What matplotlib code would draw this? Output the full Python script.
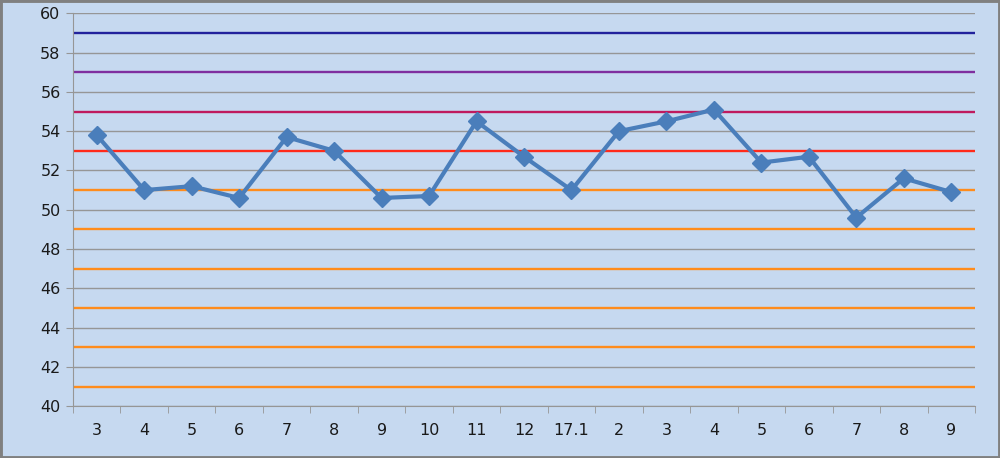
import matplotlib.pyplot as plt
import numpy as np

# categories and values
labels = ["3", "4", "5", "6", "7", "8", "9", "10", "11", "12", "17.1",
          "2", "3", "4", "5", "6", "7", "8", "9"]
values = [53.8, 51.0, 51.2, 50.6, 53.7, 53.0, 50.6, 50.7, 54.5, 52.7, 51.0,
          54.0, 54.5, 55.1, 52.4, 52.7, 49.6, 51.6, 50.9]

# reference levels and their colours
ref_levels = [59, 57, 55, 53, 51, 49, 47, 45, 43, 41]
ref_colors = ["#22229C", "#7F2F9F", "#BF1A5E", "#FF2A1A",
              "#FF8C1C", "#FF8C1C", "#FF8C1C", "#FF8C1C", "#FF8C1C", "#FF8C1C"]

bg = "#C6D9F0"
grid = "#969696"

fig = plt.figure(figsize=(10, 4.58), dpi=100, facecolor=bg)
fig.patches.append(plt.Rectangle((0, 0), 1, 1, transform=fig.transFigure,
                                 fill=False, edgecolor="#808080", linewidth=3.5))
ax = fig.add_axes([0.073, 0.113, 0.902, 0.858])
ax.set_facecolor(bg)

n = len(labels)
x = np.arange(n)
ax.set_xlim(-0.5, n - 0.5)
ax.set_ylim(40, 60)

for yv in range(40, 61, 2):
    ax.axhline(yv, color=grid, linewidth=1, zorder=1)
for lv, c in zip(ref_levels, ref_colors):
    ax.axhline(lv, color=c, linewidth=1.7, zorder=2)

ax.plot(x, values, color="#4A7EBB", linewidth=3, marker="D", markersize=9,
        zorder=3, clip_on=False)

ax.set_yticks(range(40, 61, 2))
ax.set_xticks(x)
ax.set_xticklabels(labels)
ax.set_xticks(np.arange(-0.5, n, 1), minor=True)
ax.tick_params(axis="x", which="major", length=0, pad=12, labelsize=11.5, colors="#1A1A1A")
ax.tick_params(axis="x", which="minor", length=5, color=grid, direction="out")
ax.tick_params(axis="y", length=5, color=grid, labelsize=11.5, labelcolor="#1A1A1A", pad=4)

for s in ["top", "right"]:
    ax.spines[s].set_visible(False)
for s in ["left", "bottom"]:
    ax.spines[s].set_color(grid)

fig.savefig("out.png", dpi=100, facecolor=bg)
